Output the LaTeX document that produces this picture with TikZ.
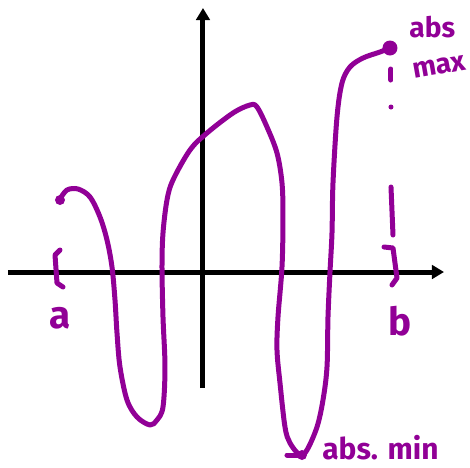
\documentclass[tikz,border=0pt]{standalone}
\usepackage{fontspec}
\setmainfont{Fira Sans}
\usetikzlibrary{arrows.meta}
\definecolor{sketchpurple}{RGB}{145,0,150}

\begin{document}
\begin{tikzpicture}[>={Triangle[length=0.24cm,width=0.27cm]},
  pen/.style={sketchpurple,line width=1mm,line cap=round,line join=round},
  hand/.style={text=sketchpurple,font=\bfseries,inner sep=0pt}]
  \useasboundingbox (-4.06,-3.90) rectangle (5.34,5.44);
  \draw[line width=1mm,->] (-3.90,0) -- (4.82,0);
  \draw[line width=1mm,->] (0,-2.32) -- (0,5.28);
  \draw[pen] plot[smooth,tension=0.55] coordinates {
    (-2.86,1.46) (-2.72,1.64) (-2.50,1.66) (-2.26,1.50) (-2.06,1.10)
    (-1.92,0.64) (-1.82,0.10) (-1.76,-0.56) (-1.72,-1.22) (-1.66,-1.90)
    (-1.52,-2.56) (-1.32,-2.90) (-1.06,-3.06) (-0.92,-2.96) (-0.80,-2.70)
    (-0.76,-1.90) (-0.80,-0.90) (-0.82,0.10) (-0.80,0.78) (-0.72,1.44)
    (-0.60,1.84) (-0.26,2.44) (0.08,2.78) (0.60,3.18) (0.94,3.34)
    (1.08,3.30) (1.28,2.90) (1.48,2.38) (1.58,1.78) (1.60,1.10)
    (1.58,0.10) (1.50,-0.90) (1.48,-1.56) (1.54,-2.22) (1.64,-3.10)
    (1.74,-3.42) (1.94,-3.66) (2.08,-3.56) (2.28,-3.10) (2.40,-2.56)
    (2.48,-1.90) (2.50,-0.90) (2.54,0) (2.58,0.78) (2.60,1.78)
    (2.68,3.10) (2.78,3.78) (2.94,4.10) (3.20,4.28) (3.54,4.40) (3.68,4.46)};
  \fill[sketchpurple] (-2.86,1.44) circle (0.1);
  \fill[sketchpurple] (3.74,4.48) circle (0.15);
  \draw[pen] (1.68,-3.66) -- (1.98,-3.66);
  \fill[sketchpurple] (1.98,-3.66) circle (0.1);
  \draw[pen] (-2.86,0.44) -- (-2.96,0.34) -- (-2.92,-0.22) -- (-2.80,-0.30);
  \draw[pen] (3.62,0.50) -- (3.80,0.48) -- (3.88,-0.12) -- (3.78,-0.26);
  \draw[pen] (3.76,4.06) -- (3.76,3.84);
  \fill[sketchpurple] (3.76,3.30) circle (0.05);
  \draw[pen] (3.76,1.70) -- (3.80,0.74);
  \node[hand,font=\bfseries\fontsize{22}{22}\selectfont] (a) at (-2.86,-0.92) {a};
  \node[hand,font=\bfseries\fontsize{22}{22}\selectfont] (b) at (3.94,-0.98) {b};
  \node[hand,font=\bfseries\fontsize{17}{17}\selectfont,anchor=base west] (absmin) at (2.38,-3.74) {abs. min};
  \node[hand,font=\bfseries\fontsize{16}{16}\selectfont,anchor=base west] (abs) at (4.12,4.70) {abs};
  \node[hand,font=\bfseries\fontsize{16}{16}\selectfont,anchor=base west,rotate=10] (max) at (4.22,3.86) {max};
\end{tikzpicture}
\end{document}
